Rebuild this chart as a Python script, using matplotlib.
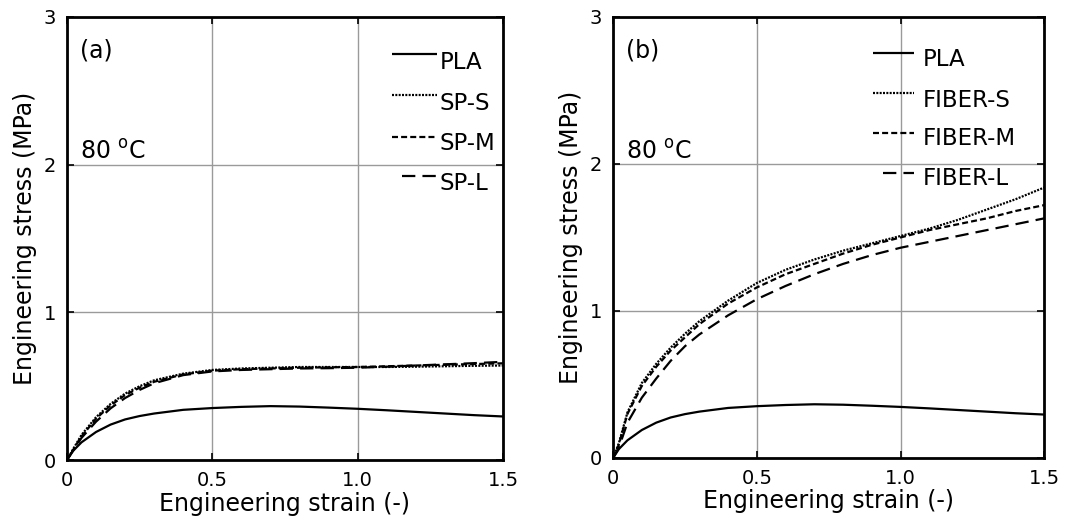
import matplotlib
matplotlib.use("Agg")
import matplotlib.pyplot as plt

strain = [0, 0.02, 0.05, 0.1, 0.15, 0.2, 0.25, 0.3, 0.4, 0.5, 0.6, 0.7, 0.8,
          0.9, 1.0, 1.1, 1.2, 1.3, 1.4, 1.5]

pla = [0, 0.06, 0.12, 0.19, 0.24, 0.275, 0.298, 0.315, 0.34, 0.352, 0.36,
       0.365, 0.362, 0.355, 0.347, 0.337, 0.326, 0.315, 0.304, 0.295]

sp_s = [0, 0.07, 0.17, 0.29, 0.38, 0.45, 0.50, 0.54, 0.585, 0.61, 0.62,
        0.625, 0.63, 0.63, 0.63, 0.63, 0.632, 0.635, 0.638, 0.64]
sp_m = [0, 0.065, 0.16, 0.28, 0.37, 0.44, 0.49, 0.53, 0.58, 0.605, 0.615,
        0.62, 0.625, 0.628, 0.63, 0.635, 0.64, 0.645, 0.65, 0.655]
sp_l = [0, 0.06, 0.15, 0.26, 0.35, 0.42, 0.475, 0.52, 0.575, 0.60, 0.61,
        0.615, 0.62, 0.622, 0.625, 0.632, 0.64, 0.648, 0.656, 0.665]

fiber_s = [0, 0.10, 0.31, 0.51, 0.64, 0.75, 0.845, 0.93, 1.07, 1.19, 1.28,
           1.35, 1.41, 1.46, 1.51, 1.56, 1.62, 1.69, 1.76, 1.84]
fiber_m = [0, 0.09, 0.30, 0.49, 0.62, 0.73, 0.82, 0.91, 1.05, 1.16, 1.25,
           1.32, 1.39, 1.45, 1.50, 1.55, 1.59, 1.63, 1.68, 1.72]
fiber_l = [0, 0.07, 0.24, 0.41, 0.54, 0.66, 0.76, 0.84, 0.97, 1.08, 1.17,
           1.25, 1.32, 1.38, 1.43, 1.47, 1.51, 1.55, 1.59, 1.63]

labels_a = ["PLA", "SP-S", "SP-M", "SP-L"]
labels_b = ["PLA", "FIBER-S", "FIBER-M", "FIBER-L"]
panel_tags = ["(a)", "(b)"]
temp_label = r"80 $^{\mathrm{o}}$C"
xticks = [0, 0.5, 1.0, 1.5]
xticklabels = ["0", "0.5", "1.0", "1.5"]
yticks = [0, 1, 2, 3]
yticklabels = ["0", "1", "2", "3"]

plt.rcParams["font.family"] = ["DejaVu Sans"]

fig = plt.figure(figsize=(10.89, 5.30), dpi=100)
ax_a = fig.add_axes([0.0615, 0.132, 0.4004, 0.836])
ax_b = fig.add_axes([0.563, 0.136, 0.396, 0.832])

styles = [
    (0, ()),
    (0, (0.9, 0.6)),
    (0, (2.7, 1.4)),
    (0, (6.0, 3.2)),
]

LW = 1.6

def setup(ax, series, labels, tag, leg):
    for ys, lab, st in zip(series, labels, styles):
        ax.plot(strain, ys, color="black", lw=LW, linestyle=st)
    ax.set_xlim(0, 1.5)
    ax.set_ylim(0, 3)
    ax.set_xticks(xticks)
    ax.set_xticklabels(xticklabels)
    ax.set_yticks(yticks)
    ax.set_yticklabels(yticklabels)
    ax.grid(True, color="#9a9a9a", lw=1.0)
    ax.set_axisbelow(True)
    for sp in ax.spines.values():
        sp.set_linewidth(2.0)
    ax.tick_params(direction="in", length=5, width=1.2, top=True, right=True,
                   labelsize=14, pad=8)
    ax.set_xlabel("Engineering strain (-)", fontsize=17, labelpad=1)
    ax.set_ylabel("Engineering stress (MPa)", fontsize=17, labelpad=5)
    ax.text(0.03, 0.925, tag, transform=ax.transAxes, fontsize=17,
            va="center", ha="left")
    ax.text(0.03, 0.679, temp_label, transform=ax.transAxes, fontsize=17,
            va="baseline", ha="left")
    # legend (drawn by hand to match handle placement)
    hx0, hx1, tx, text_y, hand_y, l_start = leg
    for i, (lab, st) in enumerate(zip(labels, styles)):
        x0 = l_start if i == 3 else hx0
        ax.plot([x0, hx1], [hand_y[i], hand_y[i]], transform=ax.transAxes,
                color="black", lw=LW, linestyle=st, clip_on=False)
        ax.text(tx, text_y[i], lab, transform=ax.transAxes, fontsize=16.5,
                va="baseline", ha="left")

leg_a = (0.745, 0.849, 0.855,
         [0.8826, 0.790, 0.6998, 0.6095],
         [0.9165, 0.824, 0.729, 0.641],
         0.768)
leg_b = (0.603, 0.698, 0.719,
         [0.889, 0.796, 0.7098, 0.619],
         [0.919, 0.828, 0.737, 0.646],
         0.626)

setup(ax_a, [pla, sp_s, sp_m, sp_l], labels_a, panel_tags[0], leg_a)
setup(ax_b, [pla, fiber_s, fiber_m, fiber_l], labels_b, panel_tags[1], leg_b)

fig.savefig("out.png", dpi=100)
